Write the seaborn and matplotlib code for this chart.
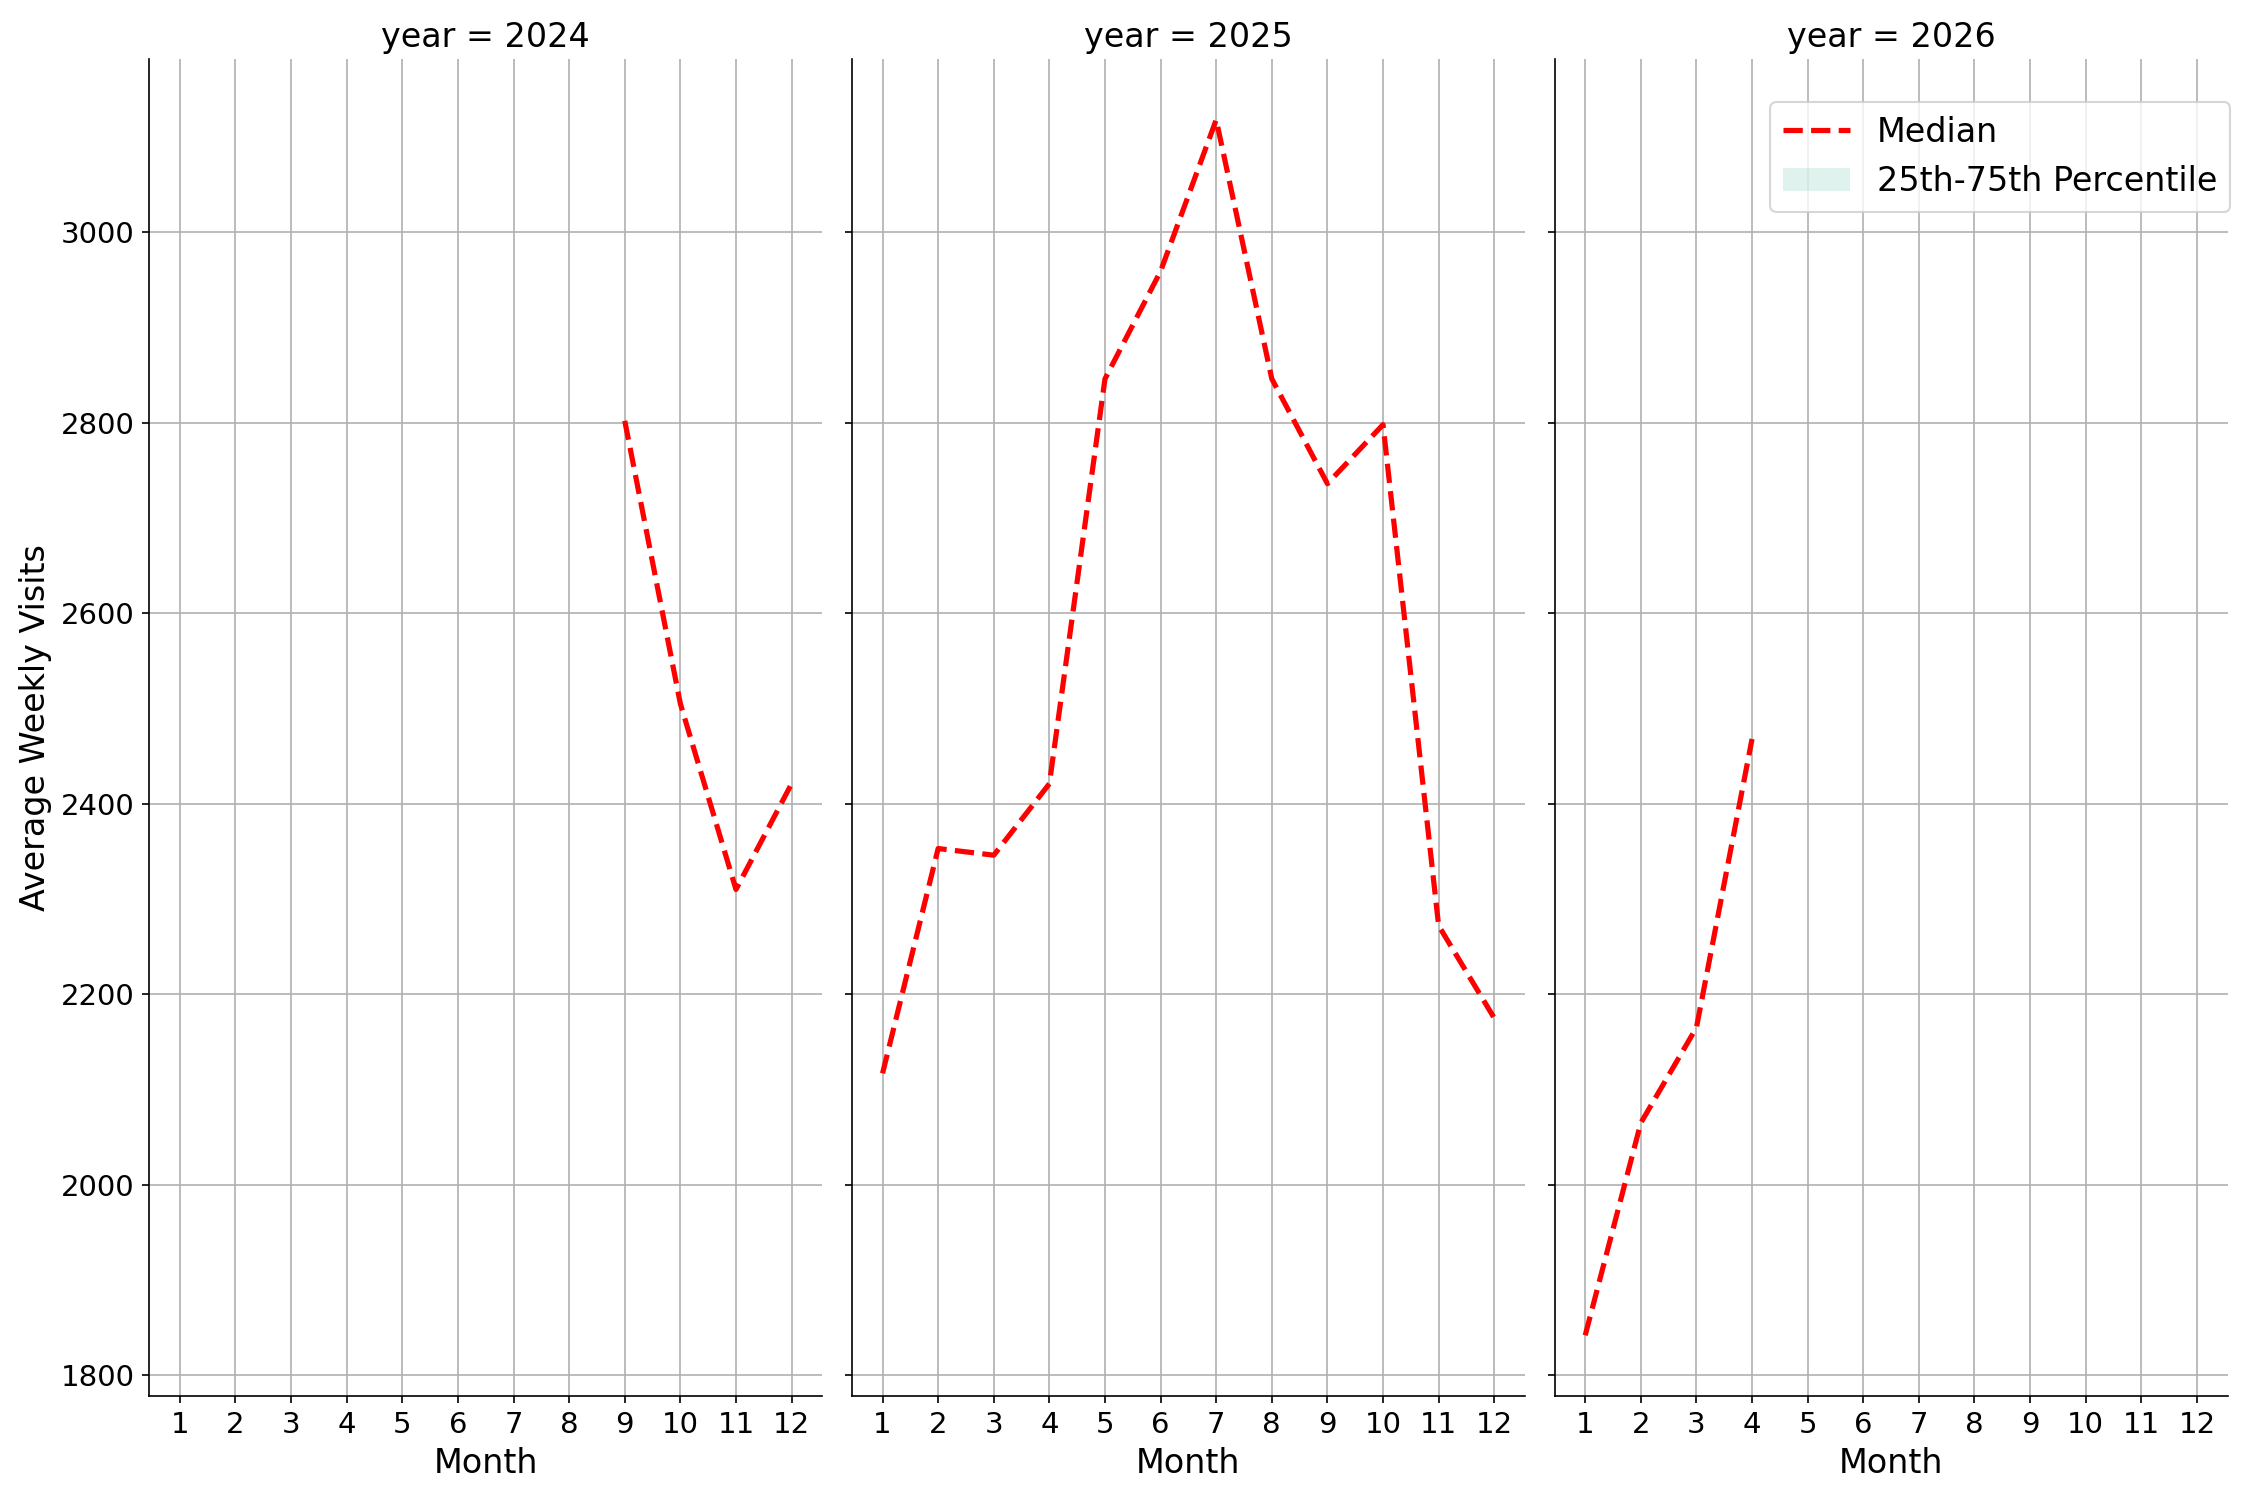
import seaborn as sns
import pandas as pd
import matplotlib
matplotlib.use("Agg")
import matplotlib.pyplot as plt

# median weekly visits per month
months_2024 = [9, 10, 11, 12]
median_2024 = [2802, 2505, 2310, 2421]

months_2025 = [1, 2, 3, 4, 5, 6, 7, 8, 9, 10, 11, 12]
median_2025 = [2117, 2353, 2346, 2421, 2846, 2959, 3118, 2846, 2736, 2798, 2272, 2175]

months_2026 = [1, 2, 3, 4]
median_2026 = [1842, 2065, 2165, 2468]

years = [2024, 2025, 2026]

rows = []
for yr, ms, vals in zip(years, [months_2024, months_2025, months_2026],
                        [median_2024, median_2025, median_2026]):
    for m, v in zip(ms, vals):
        rows.append({"year": yr, "month": m, "median": v, "q25": v, "q75": v})
df = pd.DataFrame(rows)

plt.rcParams["xtick.labelsize"] = 14
plt.rcParams["ytick.labelsize"] = 14


def draw(data, **kws):
    ax = plt.gca()
    ax.fill_between(data["month"], data["q25"], data["q75"],
                    color="#66c2a5", alpha=0.2, linewidth=0, label="25th-75th Percentile")
    sns.lineplot(data=data, x="month", y="median", color="red", linestyle="--",
                 linewidth=2.5, ax=ax, label="Median")
    ax.grid(True, color="#b0b0b0", linewidth=0.8)
    ax.set_axisbelow(True)


g = sns.FacetGrid(df, col="year", height=10, aspect=0.5, sharey=True, sharex=True)
g.map_dataframe(draw)

for ax in g.axes.flat:
    ax.set_xticks(range(1, 13))
    ax.set_xlim(0.45, 12.55)
    leg = ax.get_legend()
    if leg is not None:
        leg.remove()

g.set_axis_labels("Month", "Average Weekly Visits", fontsize=16)
for ax in g.axes.flat:
    ax.set_title(ax.get_title(), fontsize=16)

g.figure.set_size_inches(15, 10)
g.figure.tight_layout()

# legend added after layout so it can hang slightly past the last panel
last = g.axes.flat[-1]
h, l = last.get_legend_handles_labels()
order = [l.index("Median"), l.index("25th-75th Percentile")]
last.legend([h[i] for i in order], [l[i] for i in order], loc="upper right",
            bbox_to_anchor=(1.029, 0.980), fontsize=16)

g.figure.savefig("out.png", dpi=150)
